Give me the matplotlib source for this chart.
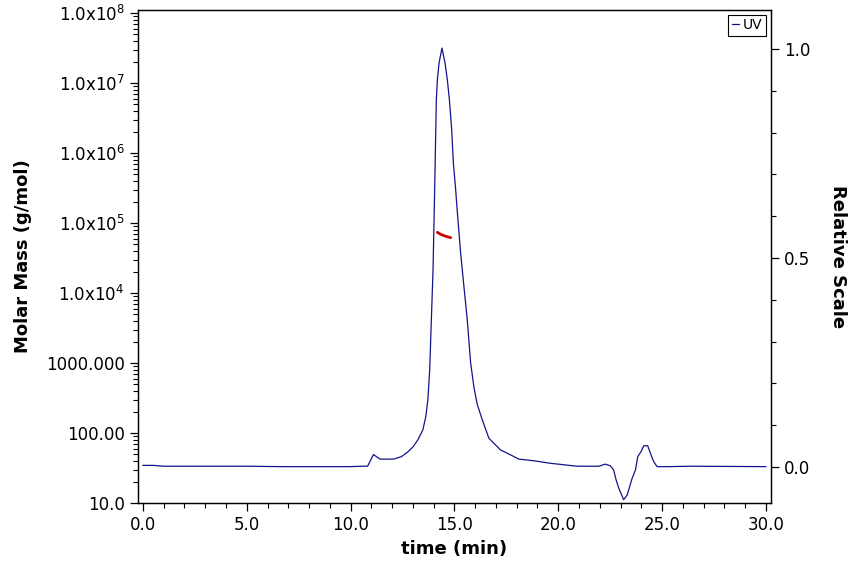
import matplotlib.pyplot as plt
import matplotlib.ticker as mticker
import numpy as np

# UV trace (relative scale)
time_uv = [0.0, 0.5, 1.0, 5.0, 6.7, 10.0, 10.6, 10.82, 11.1, 11.42, 12.07, 12.45, 12.75,
           13.0, 13.24, 13.48, 13.62, 13.72, 13.81, 13.89, 13.97, 14.02, 14.07, 14.10,
           14.13, 14.18, 14.26, 14.40, 14.55, 14.66, 14.76, 14.87, 14.95, 15.05,
           15.16, 15.30, 15.46, 15.62, 15.78, 15.94, 16.10, 16.35, 16.66, 17.22,
           17.71, 18.1, 18.83, 19.63, 20.9, 21.95, 22.27, 22.51, 22.67, 22.79,
           22.92, 23.15, 23.32, 23.56, 23.72, 23.83, 23.99, 24.12, 24.31, 24.44,
           24.6, 24.76, 25.3, 26.36, 30.0]
uv = [0.004, 0.004, 0.002, 0.002, 0.001, 0.001, 0.002, 0.002, 0.030, 0.019, 0.019, 0.025, 0.036,
      0.048, 0.065, 0.089, 0.12, 0.16, 0.232, 0.352, 0.471, 0.591, 0.718, 0.799,
      0.878, 0.926, 0.966, 1.002, 0.966, 0.926, 0.878, 0.806, 0.727, 0.670,
      0.598, 0.512, 0.431, 0.352, 0.25, 0.191, 0.150, 0.112, 0.069, 0.041,
      0.029, 0.019, 0.015, 0.009, 0.002, 0.002, 0.007, 0.003, -0.007, -0.031,
      -0.051, -0.078, -0.067, -0.027, -0.007, 0.025, 0.037, 0.051, 0.051, 0.033,
      0.013, 0.001, 0.001, 0.002, 0.001]

# molar mass across the peak
time_mm = [14.18, 14.34, 14.50, 14.66, 14.82]
molar_mass = [7.36e4, 6.90e4, 6.59e4, 6.37e4, 6.17e4]

mass_ticks = [10, 100, 1000, 1e4, 1e5, 1e6, 1e7, 1e8]
mass_labels = ['10.0', '100.00', '1000.000', r'1.0x10$^{4}$', r'1.0x10$^{5}$',
               r'1.0x10$^{6}$', r'1.0x10$^{7}$', r'1.0x10$^{8}$']

plt.rcParams['font.family'] = 'DejaVu Sans'

fig = plt.figure(figsize=(8.64, 5.76), dpi=100)
ax = fig.add_axes([0.1597, 0.1267, 0.7327, 0.8559])
ax2 = ax.twinx()

ax2.plot(time_uv, uv, color='#14148c', lw=0.9, label='UV')
ax.plot(time_mm, molar_mass, color='#cc0000', lw=2.0, solid_capstyle='round')

ax.set_yscale('log')
ax.set_ylim(10, 1.104e8)
ax.set_yticks(mass_ticks)
ax.set_yticklabels(mass_labels)
ax.yaxis.set_minor_locator(mticker.LogLocator(base=10, subs=np.arange(2, 10), numticks=20))
ax.yaxis.set_minor_formatter(mticker.NullFormatter())

ax.set_xlim(-0.24, 30.25)
ax.set_xticks(np.arange(0, 31, 5))
ax.set_xticklabels(['%.1f' % v for v in np.arange(0, 31, 5)])
ax.xaxis.set_minor_locator(mticker.MultipleLocator(1))

ax2.set_ylim(-0.086, 1.093)
ax2.set_yticks([0.0, 0.5, 1.0])
ax2.set_yticklabels(['0.0', '0.5', '1.0'])
ax2.yaxis.set_minor_locator(mticker.MultipleLocator(0.1))

for a in (ax, ax2):
    a.tick_params(which='major', length=6, width=0.9, labelsize=12, direction='out')
    a.tick_params(which='minor', length=3.5, width=0.8, direction='out')
    for s in a.spines.values():
        s.set_linewidth(0.9)

ax.set_xlabel('time (min)', fontsize=13, fontweight='bold', labelpad=4)
ax.set_ylabel('Molar Mass (g/mol)', fontsize=13, fontweight='bold', labelpad=10)
ax2.set_ylabel('Relative Scale', fontsize=13, fontweight='bold', rotation=270, labelpad=26)

leg = ax2.legend(loc='upper right', fontsize=10, handlelength=0.5, handletextpad=0.3,
                 borderpad=0.25, borderaxespad=0.35, fancybox=False, framealpha=1)
leg.get_frame().set_edgecolor('black')
leg.get_frame().set_linewidth(0.8)

fig.savefig('out.png', dpi=100)
